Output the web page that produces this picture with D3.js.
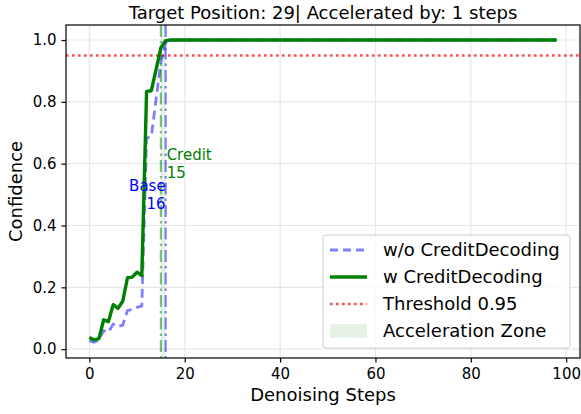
<!DOCTYPE html>
<html>
<head>
<meta charset="utf-8">
<script src="https://cdn.jsdelivr.net/npm/d3@7"></script>
<style>
  body { margin: 0; background: #fff; }
  svg { display: block; font-family: "DejaVu Sans", sans-serif; }
</style>
</head>
<body>
<div id="chart"></div>
<script>
// confidence per denoising step, without credit decoding
var baseConf = [
    0.027, 0.022, 0.030, 0.060, 0.055, 0.081, 0.073, 0.078, 0.125, 0.128,
    0.135, 0.140, 0.683, 0.688, 0.810, 0.930, 0.990, 1.0, 1.0, 1.0,
    1.0, 1.0, 1.0, 1.0, 1.0, 1.0, 1.0, 1.0, 1.0, 1.0,
    1.0, 1.0, 1.0, 1.0, 1.0, 1.0, 1.0, 1.0, 1.0, 1.0,
    1.0, 1.0, 1.0, 1.0, 1.0, 1.0, 1.0, 1.0, 1.0, 1.0,
    1.0, 1.0, 1.0, 1.0, 1.0, 1.0, 1.0, 1.0, 1.0, 1.0,
    1.0, 1.0, 1.0, 1.0, 1.0, 1.0, 1.0, 1.0, 1.0, 1.0,
    1.0, 1.0, 1.0, 1.0, 1.0, 1.0, 1.0, 1.0, 1.0, 1.0,
    1.0, 1.0, 1.0, 1.0, 1.0, 1.0, 1.0, 1.0, 1.0, 1.0,
    1.0, 1.0, 1.0, 1.0, 1.0, 1.0, 1.0, 1.0, 1.0
];
// confidence per denoising step, with credit decoding
var creditConf = [
    0.038, 0.030, 0.034, 0.095, 0.089, 0.144, 0.132, 0.155, 0.231, 0.233,
    0.249, 0.238, 0.834, 0.836, 0.905, 0.975, 0.998, 1.0, 1.0, 1.0,
    1.0, 1.0, 1.0, 1.0, 1.0, 1.0, 1.0, 1.0, 1.0, 1.0,
    1.0, 1.0, 1.0, 1.0, 1.0, 1.0, 1.0, 1.0, 1.0, 1.0,
    1.0, 1.0, 1.0, 1.0, 1.0, 1.0, 1.0, 1.0, 1.0, 1.0,
    1.0, 1.0, 1.0, 1.0, 1.0, 1.0, 1.0, 1.0, 1.0, 1.0,
    1.0, 1.0, 1.0, 1.0, 1.0, 1.0, 1.0, 1.0, 1.0, 1.0,
    1.0, 1.0, 1.0, 1.0, 1.0, 1.0, 1.0, 1.0, 1.0, 1.0,
    1.0, 1.0, 1.0, 1.0, 1.0, 1.0, 1.0, 1.0, 1.0, 1.0,
    1.0, 1.0, 1.0, 1.0, 1.0, 1.0, 1.0, 1.0, 1.0
];
var threshold = 0.95;
var baseStep = 16;
var creditStep = 15;
var targetPos = 29;
var xTicks = [0, 20, 40, 60, 80, 100];
var yTicks = [0.0, 0.2, 0.4, 0.6, 0.8, 1.0];
var legendLabels = ["w/o CreditDecoding", "w CreditDecoding", "Threshold 0.95", "Acceleration Zone"];

var W = 581, H = 414;
var margin = { top: 25, right: 1, bottom: 56, left: 66 };
var width = W - margin.left - margin.right;
var height = H - margin.top - margin.bottom;

var svg = d3.select("#chart").append("svg").attr("width", W).attr("height", H);

var x = d3.scaleLinear().domain([-4.9, 102.9]).range([0, width]);
var y = d3.scaleLinear().domain([-0.0286, 1.0486]).range([height, 0]);

var chart = svg.append("g").attr("transform", "translate(" + margin.left + "," + margin.top + ")");

// grid
chart.selectAll(".gx").data(xTicks).enter().append("line")
    .attr("x1", d => x(d)).attr("x2", d => x(d))
    .attr("y1", 0).attr("y2", height)
    .style("stroke", "#e7e7e7").style("stroke-width", 1.2);
chart.selectAll(".gy").data(yTicks).enter().append("line")
    .attr("x1", 0).attr("x2", width)
    .attr("y1", d => y(d)).attr("y2", d => y(d))
    .style("stroke", "#e7e7e7").style("stroke-width", 1.2);

// acceleration zone
chart.append("rect")
    .attr("x", x(creditStep)).attr("y", 0)
    .attr("width", x(baseStep) - x(creditStep)).attr("height", height)
    .style("fill", "green").style("opacity", 0.1);

// threshold
chart.append("line")
    .attr("x1", 0).attr("x2", width)
    .attr("y1", y(threshold)).attr("y2", y(threshold))
    .style("stroke", "red").style("stroke-opacity", 0.7)
    .style("stroke-width", 2.6).style("stroke-dasharray", "2.6,3.4");

var line = d3.line().x((d, i) => x(i)).y(d => y(d));

chart.append("path").datum(baseConf)
    .attr("d", line)
    .style("fill", "none").style("stroke", "blue").style("stroke-opacity", 0.5)
    .style("stroke-width", 2.8).style("stroke-dasharray", "9,5");

chart.append("path").datum(creditConf)
    .attr("d", line)
    .style("fill", "none").style("stroke", "green")
    .style("stroke-width", 3.4).style("stroke-linejoin", "round");

// step markers
chart.append("line")
    .attr("x1", x(creditStep)).attr("x2", x(creditStep))
    .attr("y1", 0).attr("y2", height)
    .style("stroke", "green").style("stroke-opacity", 0.5)
    .style("stroke-width", 2.2).style("stroke-dasharray", "12,4,2.5,4");
chart.append("line")
    .attr("x1", x(baseStep)).attr("x2", x(baseStep))
    .attr("y1", 0).attr("y2", height)
    .style("stroke", "blue").style("stroke-opacity", 0.5)
    .style("stroke-width", 2.2).style("stroke-dasharray", "12,4,2.5,4");

// annotations
var baseText = chart.append("text")
    .attr("text-anchor", "end").style("font-size", "15px").style("fill", "blue");
baseText.append("tspan").attr("x", x(baseStep)).attr("y", y(0.5) - 3.5).text("Base");
baseText.append("tspan").attr("x", x(baseStep)).attr("y", y(0.5) + 14).text(baseStep);

var creditText = chart.append("text")
    .attr("text-anchor", "start").style("font-size", "15px").style("fill", "green");
creditText.append("tspan").attr("x", x(baseStep) + 1).attr("y", y(0.6) - 3.5).text("Credit");
creditText.append("tspan").attr("x", x(baseStep) + 1).attr("y", y(0.6) + 14).text(creditStep);

// axes
var xAxis = chart.append("g").attr("transform", "translate(0," + height + ")")
    .call(d3.axisBottom(x).tickValues(xTicks).tickSize(4.5).tickPadding(6).tickFormat(d3.format("d")));
var yAxis = chart.append("g")
    .call(d3.axisLeft(y).tickValues(yTicks).tickSize(4.5).tickPadding(5).tickFormat(d3.format(".1f")));
[xAxis, yAxis].forEach(function (a) {
    a.select(".domain").remove();
    a.selectAll("line").style("stroke", "#000").style("stroke-width", 1.2);
    a.selectAll("text").style("font-size", "15px").style("font-family", "DejaVu Sans").style("fill", "#000");
});
chart.append("rect").attr("x", 0).attr("y", 0).attr("width", width).attr("height", height)
    .style("fill", "none").style("stroke", "#000").style("stroke-width", 1.2);

// legend
var leg = chart.append("g").attr("transform", "translate(" + (323 - margin.left) + "," + (235 - margin.top) + ")");
leg.append("rect").attr("width", 247).attr("height", 113).attr("rx", 3)
    .style("fill", "#fff").style("fill-opacity", 0.8).style("stroke", "#cccccc");
var rowY = [15, 42, 69, 96];
leg.append("line").attr("x1", 7).attr("x2", 44).attr("y1", rowY[0]).attr("y2", rowY[0])
    .style("stroke", "blue").style("stroke-opacity", 0.5).style("stroke-width", 2.8).style("stroke-dasharray", "8,5");
leg.append("line").attr("x1", 7).attr("x2", 44).attr("y1", rowY[1]).attr("y2", rowY[1])
    .style("stroke", "green").style("stroke-width", 3.4);
leg.append("line").attr("x1", 7).attr("x2", 44).attr("y1", rowY[2]).attr("y2", rowY[2])
    .style("stroke", "red").style("stroke-opacity", 0.7).style("stroke-width", 2.6).style("stroke-dasharray", "2.6,3.4");
leg.append("rect").attr("x", 7).attr("y", rowY[3] - 7).attr("width", 37).attr("height", 14)
    .style("fill", "green").style("opacity", 0.1);
leg.selectAll(".lt").data(legendLabels).enter().append("text")
    .attr("x", 60).attr("y", (d, i) => rowY[i])
    .attr("dy", "0.35em").style("font-size", "18px").style("fill", "#000")
    .text(d => d);

// titles
svg.append("text").attr("x", margin.left + width / 2).attr("y", 19)
    .attr("text-anchor", "middle").style("font-size", "18px")
    .text("Target Position: " + targetPos + "| Accelerated by: " + (baseStep - creditStep) + " steps");
svg.append("text").attr("x", margin.left + width / 2).attr("y", 401)
    .attr("text-anchor", "middle").style("font-size", "18px").text("Denoising Steps");
svg.append("text").attr("transform", "translate(22," + (margin.top + height / 2) + ")rotate(-90)")
    .attr("text-anchor", "middle").style("font-size", "18px").text("Confidence");
</script>
</body>
</html>
